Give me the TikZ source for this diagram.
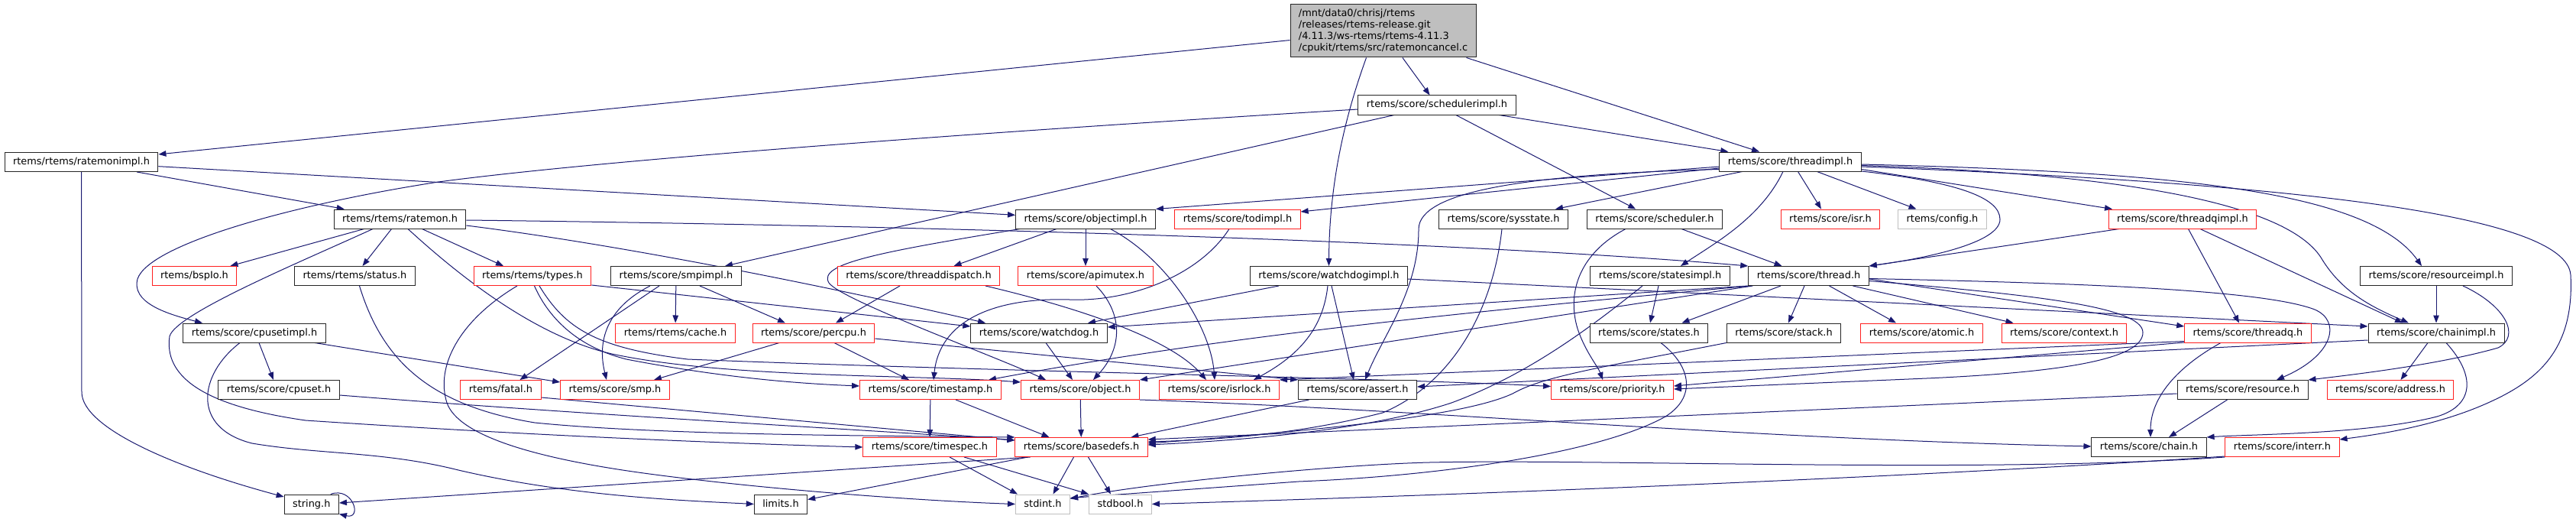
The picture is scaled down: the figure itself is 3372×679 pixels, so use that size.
\documentclass[tikz,border=0pt]{standalone}
\usepackage{fontspec}
\setmainfont{DejaVu Sans}
\usetikzlibrary{arrows.meta}
\definecolor{edgec}{HTML}{191970}
\definecolor{nodered}{HTML}{FF2020}
\definecolor{nodegray}{HTML}{BFBFBF}
\definecolor{mainfill}{HTML}{BFBFBF}
\pgfdeclarelayer{edgelayer}
\pgfsetlayers{edgelayer,main}
\newcommand{\nodefnt}{\fontsize{12.9bp}{14.8bp}\selectfont}
\begin{document}
\begin{tikzpicture}[x=1bp,y=-1bp,
  nd/.style={draw=black!85, line width=1bp, fill=white, rectangle, minimum height=25bp, inner xsep=11bp, inner ysep=0pt, text height=9.5bp, text depth=2.5bp, font=\nodefnt},
  rd/.style={nd, draw=nodered},
  gy/.style={nd, draw=nodegray},
  srcst/.style={draw=black!85, line width=1bp, fill=mainfill, rectangle, minimum width=243bp, minimum height=69bp, inner xsep=8bp, inner ysep=0pt, align=left, font=\nodefnt},
  e/.style={draw=edgec, line width=1bp, -{Triangle[length=10bp,width=7.5bp]}}]
\useasboundingbox (0,0) rectangle (3372,679);
% nodes
\node[srcst] (src) at (1810.5,40.5) {/mnt/data0/chrisj/rtems\\/releases/rtems-release.git\\/4.11.3/ws-rtems/rtems-4.11.3\\/cpukit/rtems/src/ratemoncancel.c};
\node[nd] (schedulerimpl) at (1881,137.5) {rtems/score/schedulerimpl.h};
\node[nd] (ratemonimpl) at (106.5,212) {rtems/rtems/ratemonimpl.h};
\node[nd] (threadimpl) at (2343.5,211.5) {rtems/score/threadimpl.h};
\node[nd] (ratemon) at (523.5,286.5) {rtems/rtems/ratemon.h};
\node[nd] (objectimpl) at (1421,286.5) {rtems/score/objectimpl.h};
\node[rd] (todimpl) at (1620,286.5) {rtems/score/todimpl.h};
\node[nd] (sysstate) at (1968,286.5) {rtems/score/sysstate.h};
\node[nd] (scheduler) at (2166,286.5) {rtems/score/scheduler.h};
\node[rd] (isr) at (2396,286.5) {rtems/score/isr.h};
\node[gy] (config) at (2542.5,286.5) {rtems/config.h};
\node[rd] (threadqimpl) at (2857,286.5) {rtems/score/threadqimpl.h};
\node[rd] (bspIo) at (254.5,361) {rtems/bspIo.h};
\node[nd] (status) at (464.5,361) {rtems/rtems/status.h};
\node[rd] (types) at (697,361) {rtems/rtems/types.h};
\node[nd] (smpimpl) at (885,361) {rtems/score/smpimpl.h};
\node[rd] (threaddispatch) at (1202.5,361) {rtems/score/threaddispatch.h};
\node[rd] (apimutex) at (1421,361) {rtems/score/apimutex.h};
\node[nd] (watchdogimpl) at (1739.5,361) {rtems/score/watchdogimpl.h};
\node[nd] (statesimpl) at (2173,361) {rtems/score/statesimpl.h};
\node[nd] (thread) at (2367.5,361) {rtems/score/thread.h};
\node[nd] (resourceimpl) at (3189,361) {rtems/score/resourceimpl.h};
\node[nd] (cpusetimpl) at (333,435.5) {rtems/score/cpusetimpl.h};
\node[rd] (cache) at (884,435.5) {rtems/rtems/cache.h};
\node[rd] (percpu) at (1065,435.5) {rtems/score/percpu.h};
\node[nd] (watchdog) at (1360,435.5) {rtems/score/watchdog.h};
\node[nd] (states) at (2158.5,435.5) {rtems/score/states.h};
\node[nd] (stack) at (2335,435.5) {rtems/score/stack.h};
\node[rd] (atomic) at (2515.5,435.5) {rtems/score/atomic.h};
\node[rd] (context) at (2702,435.5) {rtems/score/context.h};
\node[rd] (threadq) at (2942.5,435.5) {rtems/score/threadq.h};
\node[nd] (chainimpl) at (3189,435.5) {rtems/score/chainimpl.h};
\node[nd] (cpuset) at (365,510) {rtems/score/cpuset.h};
\node[rd] (fatal) at (655.5,510) {rtems/fatal.h};
\node[rd] (smp) at (805,510) {rtems/score/smp.h};
\node[rd] (timestamp) at (1218,510) {rtems/score/timestamp.h};
\node[rd] (object) at (1414,510) {rtems/score/object.h};
\node[rd] (isrlock) at (1596,510) {rtems/score/isrlock.h};
\node[nd] (assert) at (1777,510) {rtems/score/assert.h};
\node[rd] (priority) at (2110.5,510) {rtems/score/priority.h};
\node[nd] (resource) at (2935.5,510) {rtems/score/resource.h};
\node[rd] (address) at (3129,510) {rtems/score/address.h};
\node[rd] (timespec) at (1217,585) {rtems/score/timespec.h};
\node[rd] (basedefs) at (1415.5,585) {rtems/score/basedefs.h};
\node[nd] (chain) at (2813,585) {rtems/score/chain.h};
\node[rd] (interr) at (2987.5,585) {rtems/score/interr.h};
\node[nd] (string) at (407.8,659.5) {string.h};
\node[nd] (limits) at (1022,659.5) {limits.h};
\node[gy] (stdint) at (1365,659.5) {stdint.h};
\node[gy] (stdbool) at (1466.5,659.5) {stdbool.h};
% edges
\begin{pgfonlayer}{edgelayer}
\draw[e] (src) -- (ratemonimpl);
\draw[e] (src) -- (schedulerimpl);
\draw[e] (src) -- (threadimpl);
\draw[e] ([xshift=-22bp]src.south) .. controls (1765,140) and (1740,230) .. (watchdogimpl.north);
\draw[e] (ratemonimpl) -- (ratemon);
\draw[e] (ratemonimpl) -- (objectimpl);
\draw[e] (ratemonimpl.south) -- (107,513) .. controls (107,560) and (230,612) .. ([yshift=9.5bp]string.west);
\draw[e] (schedulerimpl) -- (threadimpl);
\draw[e] (schedulerimpl) -- (scheduler);
\draw[e] ([yshift=-5.5bp]schedulerimpl.west) .. controls (1300,172) and (800,208) .. (574,238) .. controls (380,268) and (195,320) .. (180,365) .. controls (172,395) and (215,410) .. ([xshift=-68bp]cpusetimpl.north);
\draw[e] ([xshift=-56bp]schedulerimpl.south) -- ([xshift=64bp]smpimpl.north);
% threadimpl
\draw[e] ([yshift=-6.5bp]threadimpl.west) -- (objectimpl.north east);
\draw[e] ([yshift=-8.5bp]threadimpl.west) -- ([yshift=9.5bp]todimpl.east);
\draw[e] ([xshift=-63bp]threadimpl.south) -- ([xshift=68bp]sysstate.north);
\draw[e] ([xshift=-9.5bp]threadimpl.south) .. controls (2305,285) and (2245,318) .. ([xshift=27bp]statesimpl.north);
\draw[e] ([xshift=10bp]threadimpl.south) -- ([xshift=-12bp]isr.north);
\draw[e] ([xshift=35bp]threadimpl.south) -- ([xshift=-34bp]config.north);
\draw[e] ([yshift=-10bp]threadimpl.east) -- ([xshift=-92bp]threadqimpl.north);
\draw[e] ([yshift=-12.5bp]threadimpl.east) .. controls (2560,238) and (2618,258) .. (2618,287) .. controls (2618,318) and (2520,338) .. (thread.north east);
\draw[e] ([yshift=-3.5bp]threadimpl.east) .. controls (2850,225) and (3100,250) .. ([xshift=-19bp]resourceimpl.north);
\draw[e] ([yshift=-5bp]threadimpl.east) .. controls (2800,228) and (3000,270) .. (3040,340) .. controls (3065,380) and (3100,400) .. ([xshift=-36bp]chainimpl.north);
\draw[e] ([yshift=-6.5bp]threadimpl.east) .. controls (3000,240) and (3360,280) .. (3365,360) .. controls (3370,460) and (3320,500) .. (3250,530) .. controls (3180,560) and (3100,570) .. ([yshift=10bp]interr.east);
\draw[e] ([yshift=-10bp]threadimpl.west) .. controls (2000,228) and (1857,250) .. (1857,300) .. controls (1857,380) and (1810,440) .. ([xshift=10bp]assert.north);
% ratemon
\draw[e] (ratemon) -- (bspIo);
\draw[e] ([xshift=-11bp]ratemon.south) -- ([xshift=10bp]status.north);
\draw[e] ([xshift=29bp]ratemon.south) -- ([xshift=-38bp]types.north);
\draw[e] ([yshift=-1.5bp]ratemon.east) .. controls (1200,295) and (1900,315) .. (thread.north west);
\draw[e] ([yshift=-8.5bp]ratemon.east) .. controls (850,325) and (1150,390) .. ([xshift=-70bp]watchdog.north);
\draw[e] ([xshift=10.5bp]ratemon.south) .. controls (600,360) and (700,440) .. (801,463) .. controls (950,495) and (1200,490) .. ([yshift=10bp]object.west);
\draw[e] ([xshift=-35.5bp]ratemon.south) .. controls (400,340) and (230,410) .. (222,440) .. controls (215,490) and (260,530) .. (400,550) .. controls (700,570) and (950,580) .. (timespec.west);
% objectimpl
\draw[e] ([xshift=-38bp]objectimpl.south) -- ([xshift=46bp]threaddispatch.north);
\draw[e] (objectimpl) -- (apimutex);
\draw[e] ([xshift=-86bp]objectimpl.south) .. controls (1150,330) and (1070,345) .. (1085,370) .. controls (1100,392) and (1300,465) .. ([xshift=-45bp]object.north);
\draw[e] ([xshift=32.5bp]objectimpl.south) .. controls (1530,340) and (1585,430) .. ([xshift=-6bp]isrlock.north);
% todimpl, sysstate, scheduler, threadqimpl
\draw[e] ([xshift=-11bp]todimpl.south) .. controls (1570,360) and (1480,395) .. (1400,392) .. controls (1300,389) and (1230,420) .. ([xshift=4bp]timestamp.north);
\draw[e] ([xshift=-2bp]sysstate.south) .. controls (1955,400) and (1905,500) .. (1810,540) .. controls (1700,568) and (1600,575) .. ([yshift=7bp]basedefs.east);
\draw[e] ([xshift=35bp]scheduler.south) -- ([xshift=-35bp]thread.north);
\draw[e] ([xshift=-38bp]scheduler.south) .. controls (2070,330) and (2050,380) .. (2065,430) .. controls (2075,460) and (2092,480) .. ([xshift=-12.5bp]priority.north);
\draw[e] ([xshift=-83bp]threadqimpl.south) -- (thread.north east);
\draw[e] ([xshift=7.5bp]threadqimpl.south) -- ([xshift=-11.5bp]threadq.north);
\draw[e] ([xshift=23bp]threadqimpl.south) -- ([xshift=-44bp]chainimpl.north);
% row 3
\draw[e] ([xshift=6bp]status.south) .. controls (500,470) and (560,530) .. (700,553) .. controls (850,568) and (1100,570) .. (basedefs.north west);
\draw[e] ([yshift=-12bp]types.east) -- ([yshift=8.5bp]watchdog.west);
\draw[e] ([xshift=2.5bp]types.south) .. controls (720,420) and (760,455) .. (820,470) .. controls (950,495) and (1050,502) .. ([yshift=5bp]timestamp.west);
\draw[e] ([xshift=9bp]types.south) .. controls (740,430) and (780,455) .. (900,470) .. controls (1300,486) and (1800,494) .. ([yshift=4.5bp]priority.west);
\draw[e] ([xshift=-20bp]types.south) .. controls (600,420) and (570,480) .. (585,527) .. controls (600,570) and (700,600) .. (850,620) .. controls (1000,640) and (1200,655) .. (stdint.west);
\draw[e] (smpimpl) -- (cache);
\draw[e] ([xshift=31bp]smpimpl.south) -- ([xshift=-37bp]percpu.north);
\draw[e] ([xshift=-22bp]smpimpl.south) -- ([xshift=25bp]fatal.north);
\draw[e] ([xshift=-34bp]smpimpl.south) .. controls (800,400) and (780,440) .. ([xshift=-11bp]smp.north);
\draw[e] ([xshift=-24.5bp]threaddispatch.south) -- ([xshift=29bp]percpu.north);
\draw[e] ([xshift=87.5bp]threaddispatch.south) .. controls (1400,400) and (1530,440) .. ([xshift=-17bp]isrlock.north);
\draw[e] ([xshift=14bp]apimutex.south) .. controls (1470,410) and (1470,455) .. ([xshift=17bp]object.north);
\draw[e] ([xshift=-65.5bp]watchdogimpl.south) -- ([xshift=64bp]watchdog.north);
\draw[e] ([xshift=-1.5bp]watchdogimpl.south) .. controls (1732,430) and (1700,465) .. ([xshift=45bp]isrlock.north);
\draw[e] ([xshift=3.5bp]watchdogimpl.south) -- ([xshift=-5bp]assert.north);
\draw[e] ([yshift=-4bp]watchdogimpl.east) -- ([yshift=8.5bp]chainimpl.west);
\draw[e] ([xshift=-2bp]statesimpl.south) -- ([xshift=1.5bp]states.north);
\draw[e] ([xshift=-23bp]statesimpl.south) .. controls (2080,430) and (2000,490) .. (1900,527) .. controls (1800,560) and (1650,575) .. ([yshift=3bp]basedefs.east);
% thread
\draw[e] ([xshift=-36.5bp]thread.south) -- ([xshift=43bp]states.north);
\draw[e] ([xshift=-5.5bp]thread.south) -- ([xshift=6bp]stack.north);
\draw[e] ([xshift=27bp]thread.south) -- ([xshift=-33.5bp]atomic.north);
\draw[e] ([xshift=58bp]thread.south) -- ([xshift=-66.5bp]context.north);
\draw[e] ([yshift=-4bp]thread.east) -- ([yshift=8.5bp]threadq.west);
\draw[e] ([yshift=-3.5bp]thread.east) .. controls (2700,370) and (2960,378) .. (3030,405) .. controls (3065,420) and (3055,465) .. ([xshift=44.5bp]resource.north);
\draw[e] ([yshift=-6.5bp]thread.east) .. controls (2650,385) and (2805,400) .. (2805,435) .. controls (2805,470) and (2700,487) .. (2522,495) -- ([yshift=1bp]priority.east);
\draw[e] (thread.south west) -- ([yshift=7.5bp]watchdog.east);
\draw[e] ([xshift=3bp]thread.south west) .. controls (1900,410) and (1600,440) .. ([xshift=76bp]timestamp.north);
\draw[e] ([xshift=6bp]thread.south west) -- (object.north east);
% threadq, resourceimpl, chainimpl
\draw[e] ([yshift=-11bp]threadq.west) -- (isrlock.north east);
\draw[e] ([yshift=-12.5bp]threadq.west) -- ([yshift=5bp]priority.east);
\draw[e] ([xshift=-35.5bp]threadq.south) .. controls (2850,480) and (2815,520) .. ([xshift=2bp]chain.north);
\draw[e] (resourceimpl) -- (chainimpl);
\draw[e] ([xshift=35bp]resourceimpl.south) .. controls (3280,400) and (3300,440) .. (3270,455) .. controls (3200,475) and (3100,488) .. (resource.north east);
\draw[e] ([xshift=-11bp]chainimpl.south) -- ([xshift=13.5bp]address.north);
\draw[e] ([xshift=13bp]chainimpl.south) .. controls (3240,490) and (3240,530) .. (3190,545) .. controls (3100,568) and (2950,568) .. (chain.north east);
\draw[e] ([yshift=-9.5bp]chainimpl.west) -- ([yshift=4bp]assert.east);
% row 4/5
\draw[e] ([xshift=-20bp]resource.south) -- ([xshift=26bp]chain.north);
\draw[e] ([yshift=-5bp]resource.west) -- ([yshift=10bp]basedefs.east);
\draw[e] ([xshift=-63.5bp]assert.south) -- ([xshift=65bp]basedefs.north);
\draw[e] (stack.south west) .. controls (2100,480) and (2020,492) .. (1980,515) .. controls (1930,538) and (1800,558) .. ([yshift=5bp]basedefs.east);
\draw[e] ([xshift=15.5bp]states.south) .. controls (2215,480) and (2220,520) .. (2180,545) .. controls (2100,590) and (1900,622) .. (1700,630) -- ([yshift=8bp]stdint.east);
\draw[e] (interr.south west) .. controls (2600,620) and (2100,600) .. (1871,605) .. controls (1750,608) and (1500,632) .. ([yshift=7bp]stdint.east);
\draw[e] ([yshift=-12bp]interr.west) .. controls (2500,625) and (1900,648) .. (stdbool.east);
\draw[e] (object) -- (basedefs);
\draw[e] (object.south east) .. controls (1850,535) and (2300,575) .. ([yshift=1bp]chain.west);
\draw[e] (timestamp) -- (timespec);
\draw[e] ([xshift=33bp]timestamp.south) -- ([xshift=-42bp]basedefs.north);
\draw[e] ([xshift=9bp]watchdog.south) -- ([xshift=-10bp]object.north);
\draw[e] ([xshift=27bp]percpu.south) -- ([xshift=-28bp]timestamp.north);
\draw[e] ([xshift=-45bp]percpu.south) -- ([xshift=51bp]smp.north);
\draw[e] ([yshift=-7.5bp]percpu.east) -- (assert.north west);
\draw[e] ([xshift=6bp]cpusetimpl.south) -- ([xshift=-7bp]cpuset.north);
\draw[e] ([xshift=79bp]cpusetimpl.south) -- ([yshift=10bp]smp.west);
\draw[e] ([xshift=-19bp]cpusetimpl.south) .. controls (260,490) and (250,560) .. (330,580) .. controls (420,595) and (500,590) .. (600,615) .. controls (750,650) and (900,655) .. (limits.west);
\draw[e] ([yshift=-7bp]cpuset.east) .. controls (800,545) and (1100,560) .. ([yshift=9bp]basedefs.west);
\draw[e] ([yshift=-10bp]fatal.east) -- ([yshift=9bp]basedefs.west);
\draw[e] ([xshift=26bp]timespec.south) -- ([xshift=-33bp]stdint.north);
\draw[e] ([xshift=45bp]timespec.south) -- (stdbool.north west);
\draw[e] ([xshift=-67bp]basedefs.south) -- ([yshift=1.5bp]string.east);
\draw[e] ([xshift=-70bp]basedefs.south) -- ([yshift=6bp]limits.east);
\draw[e] ([xshift=-10bp]basedefs.south) -- ([xshift=13.5bp]stdint.north);
\draw[e] ([xshift=9bp]basedefs.south) -- ([xshift=-12.5bp]stdbool.north);
\draw[e] ([xshift=25bp]string.north) .. controls (462,636) and (475,680) .. (string.south east);
\end{pgfonlayer}
\end{tikzpicture}
\end{document}
